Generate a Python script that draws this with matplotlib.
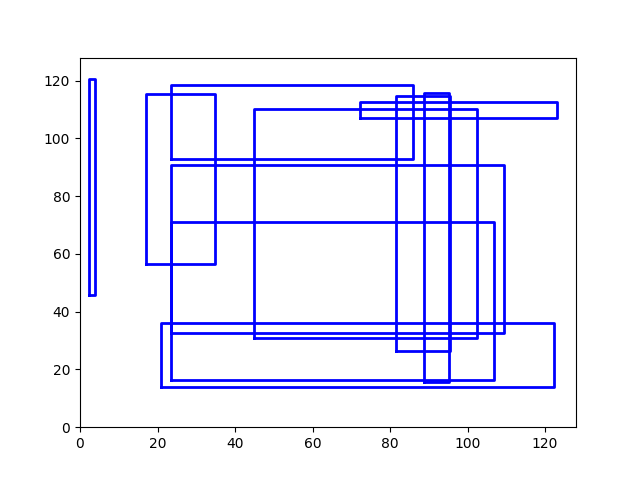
import matplotlib
matplotlib.use("Agg")
import matplotlib.pyplot as plt

# rectangles: corner coordinates
x0 = [2.2, 17.0, 23.6, 23.6, 23.6, 44.9, 72.3, 81.5, 88.8, 20.8]
y0 = [45.8, 56.6, 93.0, 32.6, 16.3, 30.8, 107.0, 26.3, 15.5, 13.9]
x1 = [3.9, 34.8, 86.0, 109.3, 106.9, 102.5, 123.2, 95.6, 95.2, 122.2]
y1 = [120.5, 115.4, 118.5, 90.7, 70.9, 110.1, 112.6, 114.7, 115.6, 36.1]

fig, ax = plt.subplots(figsize=(6.4, 4.8), dpi=100)

for a, b, c, d in zip(x0, y0, x1, y1):
    ax.plot([a, c, c, a, a], [b, b, d, d, b], 'b-', linewidth=2)

ax.set_xlim(0, 128)
ax.set_ylim(0, 128)

fig.savefig("out.png")
